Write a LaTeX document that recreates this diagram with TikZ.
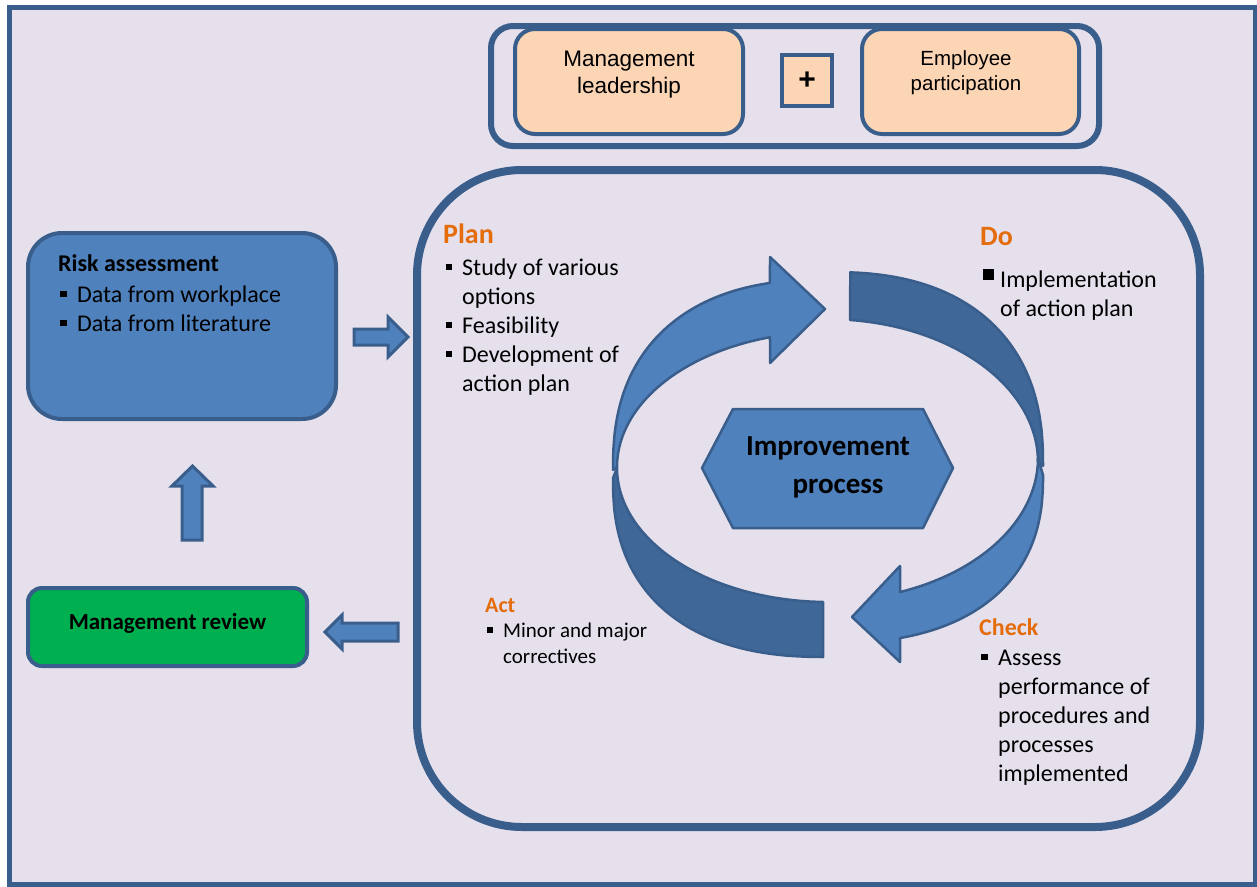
\documentclass[tikz,border=0pt]{standalone}
\usepackage{fontspec}
\setmainfont{Carlito}
\newfontfamily\arialf{Liberation Sans}
\usetikzlibrary{shapes.geometric}
\definecolor{bgl}{HTML}{E6E0EC}
\definecolor{lineb}{HTML}{3A5E8C}
\definecolor{lightb}{HTML}{4F81BD}
\definecolor{darkb}{HTML}{3F6797}
\definecolor{peach}{HTML}{FCD5B5}
\definecolor{greenb}{HTML}{00B050}
\definecolor{orng}{HTML}{E46C0A}
\newcommand\sq[2]{\rule[#1]{#2}{#2}}
\newcommand\nl{\hfil\break}
\newcommand\itm[3][16pt]{\par\hangindent=#1\hangafter=1\noindent\makebox[#1][l]{#2}#3}
\newcommand\blk[1]{\vtop{\hsize=320pt\raggedright\parindent=0pt\hyphenpenalty=10000 #1}}
\tikzset{
  box/.style={draw=lineb, line width=4pt},
  ribbonlight/.style={fill=lightb, draw=lineb, line width=2.5pt, line join=round},
  ribbondark/.style={fill=darkb, draw=lineb, line width=2.5pt, line join=round},
  blockarr/.style={draw=lineb, fill=lightb, line width=3pt, line join=miter},
  txt/.style={inner sep=0pt, anchor=base west, font=\fontsize{24}{29}\selectfont},
  hdr/.style={inner sep=0pt, anchor=base west, text=orng, font=\bfseries\fontsize{28}{32}\selectfont},
}
\begin{document}
\begin{tikzpicture}[x=1pt,y=-1pt]
\useasboundingbox (0,0) rectangle (1257,886);
\fill[white] (0,0) rectangle (1257,886);
\draw[fill=bgl, draw=lineb, line width=5pt] (9,7) rectangle (1255,884);

% top group
\draw[draw=lineb, line width=6pt, rounded corners=22pt] (491,26) rectangle (1099,146);
\draw[box, fill=peach, rounded corners=20pt] (515,29) rectangle (743,134);
\node[inner sep=0pt, font=\arialf\fontsize{22.5}{27}\selectfont, align=center] (ml) at (629,75) {Management\\leadership};
\draw[box, fill=peach, rounded corners=20pt] (862,29) rectangle (1079,134);
\node[inner sep=0pt, font=\arialf\fontsize{20.5}{25}\selectfont, align=center] (ep) at (966,73) {Employee\\participation};
\node[box, fill=peach, minimum width=50pt, minimum height=51pt, inner sep=0pt, font=\arialf\bfseries\fontsize{30}{34}\selectfont] (plus) at (807,80.5) {+};

% big rounded box
\draw[draw=lineb, line width=8pt, rounded corners=105pt] (417,170) rectangle (1200,827);

% risk assessment
\draw[box, fill=lightb, rounded corners=34pt] (28,233) rectangle (336,419);
\node[inner sep=0pt, anchor=base west, font=\bfseries\fontsize{24}{29}\selectfont] (rh) at (58,271) {Risk assessment};
\node[txt] (rb) at (60,302) {\blk{\itm[17pt]{\sq{5pt}{6.5pt}}{Data from workplace}\itm[17pt]{\sq{5pt}{6.5pt}}{Data from literature}}};

% management review
\draw[box, fill=greenb, rounded corners=14pt] (28,588) rectangle (307,666);
\node[inner sep=0pt, font=\bfseries\fontsize{23}{28}\selectfont] (mr) at (167.5,623) {Management review};

% block arrows
\draw[blockarr] (354,329) -- (388,329) -- (388,317) -- (408,337) -- (388,357) -- (388,345) -- (354,345) -- cycle;
\draw[blockarr] (182,540) -- (182,486) -- (172,486) -- (192.5,466) -- (213,486) -- (202,486) -- (202,540) -- cycle;
\draw[blockarr] (398,623) -- (342,623) -- (342,615) -- (325,632) -- (342,649) -- (342,641) -- (398,641) -- cycle;

% circular ribbon arrows (outer edges: superellipse n=2.4)
\draw[ribbondark] plot[domain=273.7:359.99, samples=60] ({828+215*abs(cos(\x))^0.8333},{466-194*abs(sin(\x))^0.8333})
   -- plot[domain=360:276.02, samples=50] ({828+210*cos(\x)},{462+142.8*sin(\x)}) -- cycle;
\draw[ribbondark] plot[domain=90.63:179.99, samples=60] ({828-215*abs(cos(\x))^0.8333},{478+179*abs(sin(\x))^0.8333})
   -- plot[domain=180:91.36, samples=50] ({828+211*cos(\x)},{468+134*sin(\x)}) -- cycle;
\draw[ribbonlight] plot[domain=180.01:258.02, samples=60] ({828-215*abs(cos(\x))^0.8333},{470-190.5*abs(sin(\x))^0.8333})
   -- (770,257) -- (825,309) -- (770,363)
   -- plot[domain=254.04:180, samples=50] ({828+211*cos(\x)},{467+135*sin(\x)}) -- cycle;
\draw[ribbonlight] plot[domain=0.01:74.37, samples=60] ({828+215*abs(cos(\x))^0.8333},{475+168.2*abs(sin(\x))^0.8333})
   -- (900,662) -- (852,617) -- (900,566)
   -- plot[domain=69.95:0, samples=50] ({828+210*cos(\x)},{458+142.7*sin(\x)}) -- cycle;

% hexagon
\draw[fill=lightb, draw=lineb, line width=2.5pt, line join=round]
  (702,468) -- (733,409) -- (923,409) -- (953,468) -- (923,528) -- (733,528) -- cycle;
\node[inner sep=0pt, align=center, font=\bfseries\fontsize{29}{38}\selectfont] (imp) at (828,467) {Improvement\\\hspace*{20pt}process};

% Plan
\node[hdr] (plh) at (443,243) {Plan};
\node[txt] (plb) at (446,275) {\blk{\itm{\sq{5pt}{6pt}}{Study of various\nl options}\itm{\sq{5pt}{6pt}}{Feasibility}\itm{\sq{5pt}{6pt}}{Development of\nl action plan}}};

% Do
\node[hdr] (doh) at (980,245) {Do};
\node[txt] (dob) at (983,287) {\blk{\itm[17pt]{\sq{7pt}{11pt}}{Implementation\nl of action plan}}};

% Act
\node[inner sep=0pt, anchor=base west, text=orng, font=\bfseries\fontsize{22}{26}\selectfont] (ach) at (485,612) {Act};
\node[inner sep=0pt, anchor=base west, font=\fontsize{21}{26}\selectfont] (acb) at (487,637) {\blk{\itm{\sq{4.5pt}{5.5pt}}{Minor and major\nl correctives}}};

% Check
\node[inner sep=0pt, anchor=base west, text=orng, font=\bfseries\fontsize{24}{29}\selectfont] (chh) at (979,635) {Check};
\node[txt] (chb) at (981,665) {\blk{\itm[17pt]{\sq{5pt}{6.5pt}}{Assess\nl performance of\nl procedures and\nl processes\nl implemented}}};
\end{tikzpicture}
\end{document}
